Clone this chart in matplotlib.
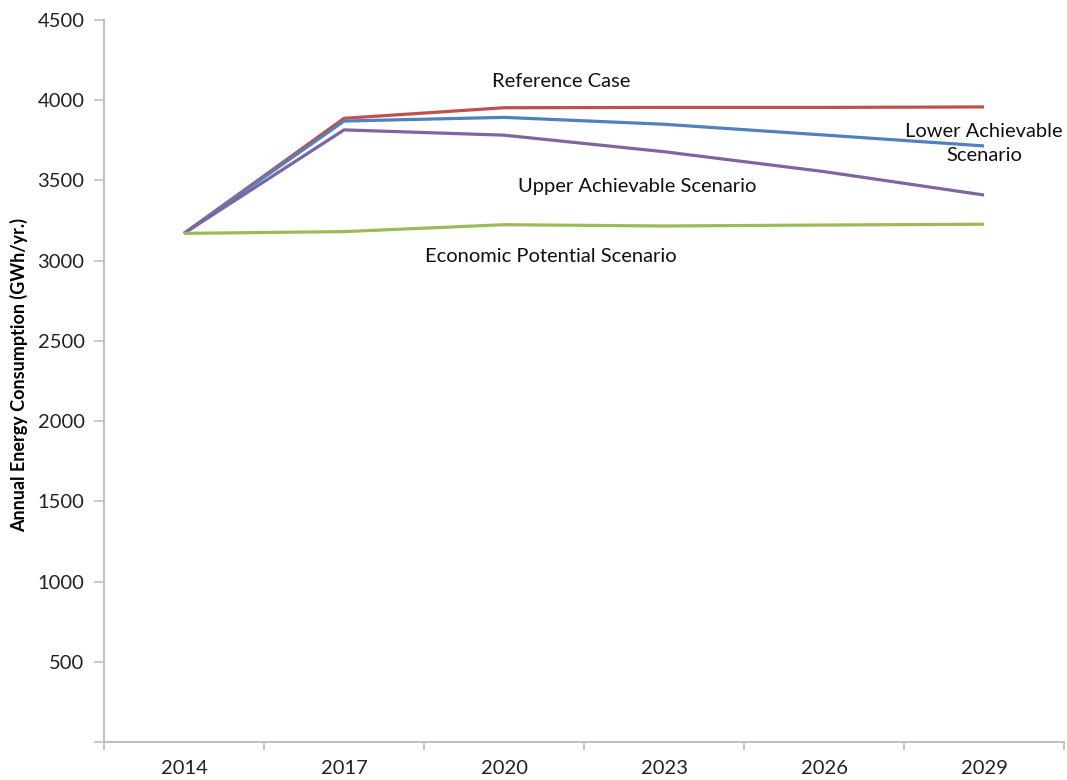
import matplotlib
import numpy as np

matplotlib.use('Agg')
import matplotlib.pyplot as plt

plt.rcParams['font.family'] = ['Lato', 'DejaVu Sans']

years = ['2014', '2017', '2020', '2023', '2026', '2029']
reference_case = [3170, 3887, 3953, 3955, 3955, 3958]
lower_achievable = [3170, 3870, 3893, 3850, 3783, 3715]
upper_achievable = [3170, 3815, 3782, 3679, 3555, 3409]
economic_potential = [3170, 3181, 3224, 3216, 3222, 3227]

y_ticks = [0, 500, 1000, 1500, 2000, 2500, 3000, 3500, 4000, 4500]

axis_grey = '#bfbfbf'

fig = plt.figure(figsize=(10.67, 7.8), dpi=100)
ax = fig.add_axes([0.0975, 0.0487, 0.8997, 0.9257])

x = np.arange(len(years))
ax.plot(x, reference_case, color='#c0504d', lw=2.3, solid_capstyle='butt')
ax.plot(x, lower_achievable, color='#4f81bd', lw=2.3, solid_capstyle='butt')
ax.plot(x, upper_achievable, color='#8064a2', lw=2.3, solid_capstyle='butt')
ax.plot(x, economic_potential, color='#9bbb59', lw=2.3, solid_capstyle='butt')

ax.set_xlim(-0.5, len(years) - 0.5)
ax.set_ylim(0, 4500)

# category axis: labels at centres, tick marks between categories
ax.set_xticks(x)
ax.set_xticklabels(years, fontsize=14.5, color='#222222')
ax.set_xticks(np.arange(-0.5, len(years)), minor=True)
ax.tick_params(axis='x', which='major', length=0, pad=13)
ax.tick_params(axis='x', which='minor', length=6, color=axis_grey, width=1.2)

ax.set_yticks(y_ticks)
ax.set_yticklabels(['' if v == 0 else str(v) for v in y_ticks], fontsize=14.5, color='#222222')
ax.tick_params(axis='y', length=7, color=axis_grey, width=1.2, pad=7)

for side in ['top', 'right']:
    ax.spines[side].set_visible(False)
for side in ['left', 'bottom']:
    ax.spines[side].set_color(axis_grey)
    ax.spines[side].set_linewidth(1.4)

fig.text(19 / 1067, 1 - 375 / 780, 'Annual Energy Consumption (GWh/yr.)',
         rotation=90, ha='center', va='center', fontsize=13, fontweight='bold')

label_kw = dict(fontsize=14.5, color='#111111', ha='center', va='center')
ax.text(2.36, 4115, 'Reference Case', **label_kw)
ax.text(5.0, 3732, 'Lower Achievable\nScenario', linespacing=1.5, **label_kw)
ax.text(2.83, 3460, 'Upper Achievable Scenario', **label_kw)
ax.text(2.29, 3024, 'Economic Potential Scenario', **label_kw)

plt.savefig('out.png', dpi=100)
plt.close()
